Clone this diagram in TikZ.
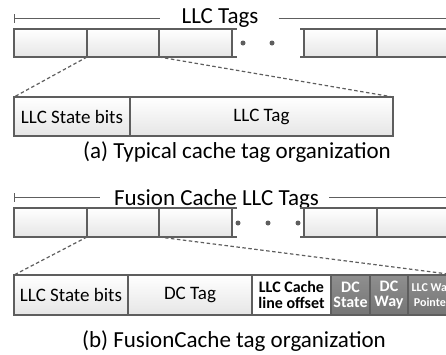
\documentclass[tikz,border=0pt]{standalone}
\usepackage{fontspec}
\setmainfont{Carlito}
\definecolor{edge}{HTML}{5E5E5E}
\begin{document}
\begin{tikzpicture}[x=1pt,y=-1pt,
  cell/.style={draw=edge, line width=1.4pt, top color=white, bottom color=black!10,
    inner sep=0pt, outer sep=0pt, anchor=north west, minimum height=28},
  fieldcell/.style={cell, minimum height=39, font=\fontsize{19}{21}\selectfont},
  boldcell/.style={fieldcell, fill=white, top color=white, bottom color=white,
    align=center, font=\fontsize{16}{15.5}\selectfont\bfseries},
  darkcell/.style={fieldcell, top color=black!44, bottom color=black!54, text=white,
    align=center, font=\fontsize{16}{15.5}\selectfont\bfseries},
  stub/.style={draw=edge, line width=1.4pt},
  bracket/.style={draw=edge, line width=0.9pt},
  zoomline/.style={draw=edge, line width=1.2pt, dash pattern=on 3.5pt off 2.5pt},
  dot/.style={circle, fill=edge, inner sep=0pt, minimum size=5},
  title/.style={font=\fontsize{23}{25}\selectfont, anchor=base, inner sep=0pt},
]
\useasboundingbox (0,0) rectangle (446,354);
\clip (0,0) rectangle (446,354);

% ---------- (a) typical tag array ----------
\node[title] (tagsA) at (220,23) {LLC Tags};
\coordinate (tickA) at (14,18);
\draw[bracket] (14,14) -- (14,23);
\draw[bracket] (tickA) -- ([xshift=-21pt]tagsA.west |- tickA);
\draw[bracket] ([xshift=20pt]tagsA.east |- tickA) -- (446,18);

\node[cell, minimum width=73] (a1) at (14,29) {};
\node[cell, minimum width=72] (a2) at (87,29) {};
\node[cell, minimum width=73] (a3) at (159,29) {};
\draw[stub] (a3.north east) -- ++(5,0) (a3.south east) -- ++(5,0);
\node[dot] (adot1) at (243,43) {};
\node[dot] (adot2) at (272,43) {};
\node[cell, minimum width=73] (a4) at (304,29) {};
\node[cell, minimum width=80] (a5) at (377,29) {};
\draw[stub] (a4.north west) -- ++(-4,0) (a4.south west) -- ++(-4,0);

\node[fieldcell, minimum width=116] (da1) at (14,97) {LLC State bits};
\node[fieldcell, minimum width=263] (da2) at (130,97) {LLC Tag};
\draw[zoomline] (a2.south west) -- (da1.north west);
\draw[zoomline] (a3.south west) -- (da2.north east);

\node[title] (capA) at (237,158) {(a) Typical cache tag organization};

% ---------- (b) FusionCache tag array ----------
\node[title] (tagsB) at (216.5,205) {Fusion Cache LLC Tags};
\coordinate (tickB) at (14,197);
\draw[bracket] (14,193) -- (14,202);
\draw[bracket] (tickB) -- ([xshift=-14pt]tagsB.west |- tickB);
\draw[bracket] ([xshift=10pt]tagsB.east |- tickB) -- (446,197);

\node[cell, minimum width=73, minimum height=29] (b1) at (14,208) {};
\node[cell, minimum width=72, minimum height=29] (b2) at (87,208) {};
\node[cell, minimum width=73, minimum height=29] (b3) at (159,208) {};
\draw[stub] (b3.north east) -- ++(5,0) (b3.south east) -- ++(5,0);
\node[dot] (bdot1) at (238,223) {};
\node[dot] (bdot2) at (268,223) {};
\node[dot] (bdot3) at (298,223) {};
\node[cell, minimum width=73, minimum height=29] (b4) at (304,208) {};
\node[cell, minimum width=80, minimum height=29] (b5) at (377,208) {};
\draw[stub] (b4.north west) -- ++(-4,0) (b4.south west) -- ++(-4,0);

\node[fieldcell, minimum width=114, minimum height=40] (db1) at (14,275) {LLC State bits};
\node[fieldcell, minimum width=124, minimum height=40] (db2) at (128,275) {DC Tag};
\node[boldcell, minimum width=79, minimum height=40] (db3) at (252,275) {LLC Cache\\line offset};
\node[darkcell, minimum width=39, minimum height=40] (db4) at (331,275) {DC\\State};
\node[darkcell, minimum width=38, minimum height=40] (db5) at (370,275) {DC\\Way};
\node[darkcell, minimum width=48, minimum height=40, font=\fontsize{12}{15}\selectfont\bfseries] (db6) at (408,275) {LLC Way\\Pointer};
\draw[zoomline] (b2.south west) -- (db1.north west);
\draw[zoomline] (b3.south west) -- (db6.north east);

\node[title] (capB) at (234,347) {(b) FusionCache tag organization};
\end{tikzpicture}
\end{document}
